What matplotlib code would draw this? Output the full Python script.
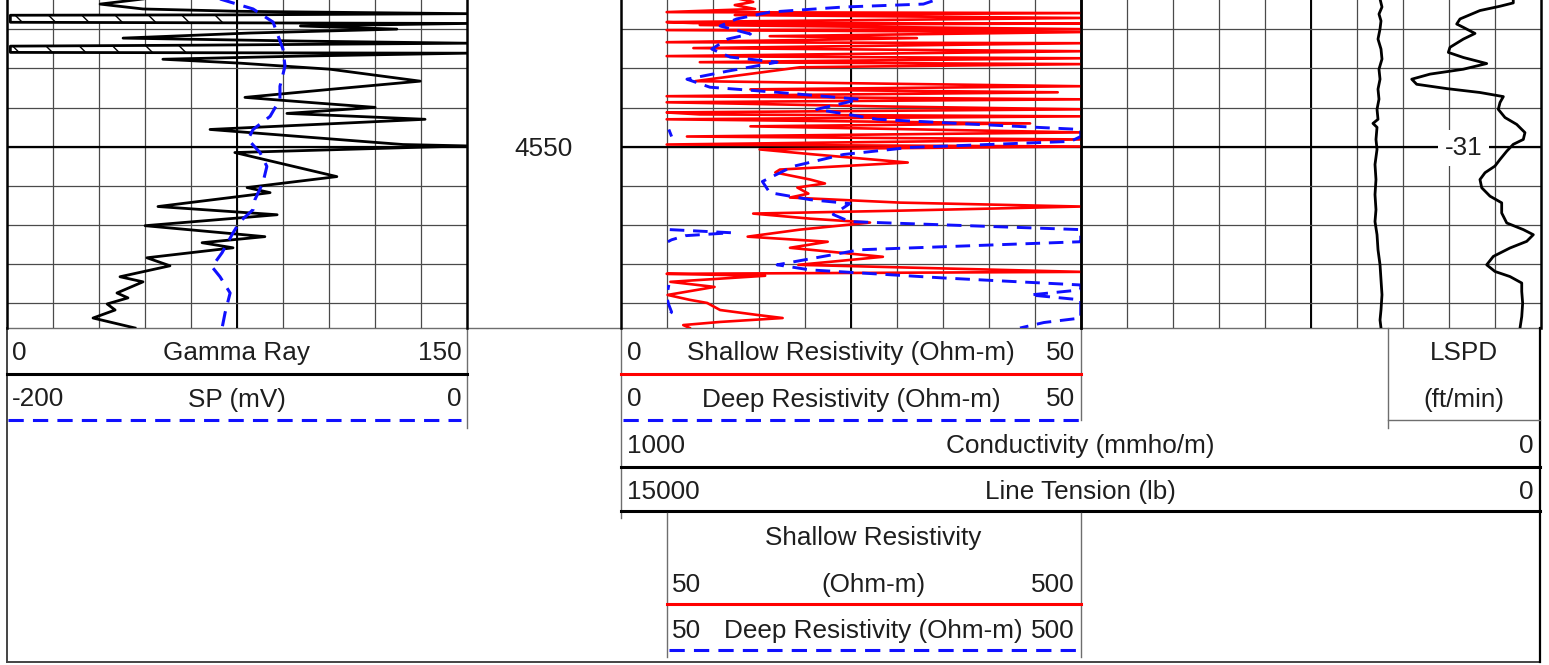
import numpy as np
import matplotlib
matplotlib.use("Agg")
import matplotlib.pyplot as plt

plt.rcParams['font.family'] = ['Liberation Sans', 'DejaVu Sans']
plt.rcParams['hatch.linewidth'] = 1.0
plt.rcParams['hatch.color'] = 'black'

W, H = 1549, 665

# ---------------- data ----------------
depth_top = 4542.45
depth_bottom = 4559.27
grid_depths = [4544, 4546, 4548, 4550, 4552, 4554, 4556, 4558]
depth_label = 4550
lspd_label = "-31"

gr_depth = [4542.45, 4542.71, 4542.96, 4543.08, 4543.20, 4543.26, 4543.28, 4543.64, 4543.66,
            4543.70, 4543.83, 4543.99, 4544.19, 4544.45, 4544.60, 4544.71, 4544.81, 4544.86,
            4545.18, 4545.22, 4545.37, 4545.53, 4545.73, 4546.04, 4546.65, 4547.07, 4547.48,
            4547.78, 4547.99, 4548.30, 4548.60, 4549.12, 4549.53, 4549.89, 4549.96, 4550.30,
            4550.81, 4551.53, 4552.09, 4552.35, 4553.06, 4553.48, 4554.04, 4554.60, 4554.91,
            4555.17, 4555.68, 4556.09, 4556.65, 4556.91, 4557.48, 4557.73, 4558.04, 4558.35,
            4558.76, 4559.27]
gr_api = [44.3, 30.3, 44.3, 76.0, 150.0, 76.0, 1.0, 1.0, 52.1,
          150.0, 95.7, 127.2, 79.2, 37.8, 95.7, 150.0, 63.0, 1.0,
          1.0, 150.0, 95.7, 50.8, 76.0, 105.4, 134.8, 105.4, 77.6,
          102.1, 120.1, 91.3, 136.4, 66.2, 99.5, 129.2, 150.0, 74.3,
          88.1, 107.6, 78.3, 85.8, 49.2, 88.1, 45.0, 84.1, 63.6,
          73.7, 45.6, 53.1, 36.8, 44.3, 35.8, 39.4, 32.6, 35.2,
          28.0, 41.7]
# hatched (shaded) intervals: depth from, depth to, GR limit of the shading
gr_shade_top = [4543.26, 4544.81]
gr_shade_base = [4543.66, 4545.18]
gr_shade_limit = [74.0, 64.0]

sp_depth = [4542.45, 4542.96, 4543.63, 4545.01, 4545.88, 4546.91, 4547.58, 4548.45, 4549.12,
            4549.63, 4550.30, 4551.01, 4551.83, 4552.71, 4553.22, 4553.83, 4554.40, 4555.42,
            4556.14, 4556.65, 4557.48, 4558.50, 4559.27]
sp_mv = [-107.4, -93.0, -84.3, -80.0, -79.1, -81.3, -81.3, -85.6, -93.0,
         -95.2, -90.0, -87.0, -88.7, -92.2, -93.0, -98.7, -101.7, -106.5,
         -110.9, -107.4, -103.0, -105.2, -106.5]

shallow_depth = [4542.45, 4542.60, 4542.76, 4542.96, 4543.12, 4543.17, 4543.27, 4543.42, 4543.63,
                 4543.68, 4543.70, 4543.78, 4543.99, 4544.04, 4544.14, 4544.35, 4544.45, 4544.66,
                 4544.71, 4544.96, 4545.12, 4545.37, 4545.48, 4545.68, 4545.78, 4545.94, 4546.65,
                 4546.91, 4547.07, 4547.22, 4547.42, 4547.58, 4547.73, 4547.94, 4548.09, 4548.25,
                 4548.35, 4548.45, 4548.60, 4548.81, 4548.96, 4549.27, 4549.48, 4549.63, 4549.73,
                 4549.89, 4549.99, 4550.14, 4550.40, 4550.81, 4551.17, 4551.32, 4551.68, 4551.88,
                 4552.09, 4552.40, 4552.60, 4552.86, 4553.06, 4553.27, 4553.42, 4553.68, 4553.88,
                 4554.24, 4554.60, 4554.86, 4555.17, 4555.63, 4555.89, 4556.04, 4556.40, 4556.50,
                 4556.60, 4556.91, 4557.17, 4557.58, 4557.83, 4557.99, 4558.35, 4558.60, 4558.76,
                 4558.96, 4559.12, 4559.27]
shallow_res = [12.95, 14.4, 12.4, 14.6, 5.0, 60.0, 12.4, 58.0, 5.0,
               7.9, 65.0, 8.6, 56.0, 5.0, 62.0, 16.2, 32.2, 5.0,
               58.0, 7.9, 54.0, 5.0, 60.0, 8.6, 57.0, 19.5, 8.1,
               55.0, 14.1, 47.5, 5.0, 60.0, 5.0, 28.2, 56.0, 5.0,
               8.6, 58.0, 5.0, 44.5, 14.1, 55.0, 7.2, 60.0, 33.1,
               5.0, 57.0, 15.1, 21.1, 31.2, 17.3, 16.8, 20.6, 22.2,
               19.2, 20.4, 18.4, 30.4, 51.0, 30.4, 14.4, 20.6, 27.1,
               19.5, 13.8, 22.5, 18.4, 28.5, 22.7, 19.3, 55.0, 5.0,
               15.7, 5.4, 10.2, 5.1, 7.5, 9.4, 10.8, 14.8, 17.6,
               10.8, 6.8, 7.5]

deep_depth = [4542.55, 4542.71, 4542.86, 4543.12, 4543.47, 4543.83, 4544.24, 4544.50, 4545.01,
              4545.42, 4545.68, 4546.14, 4546.55, 4546.96, 4547.22, 4547.58, 4548.09, 4548.60,
              4548.86, 4549.12, 4549.48, 4549.73, 4550.04, 4550.40, 4551.01, 4551.78, 4552.35,
              4552.71, 4552.91, 4553.47, 4553.83, 4554.24, 4554.40, 4554.55, 4554.76, 4554.86,
              4555.27, 4556.04, 4556.30, 4556.71, 4557.07, 4557.32, 4557.58, 4557.83, 4558.09,
              4558.45, 4558.76, 4558.99, 4559.27]
deep_res = [33.9, 32.9, 24.2, 16.2, 12.6, 10.8, 14.1, 11.6, 9.9,
            11.9, 17.0, 11.6, 7.2, 9.7, 17.0, 26.0, 21.3, 27.9,
            38.7, 52.0, 55.0, 48.9, 31.4, 24.2, 18.7, 15.4, 16.2,
            20.6, 24.9, 23.1, 24.9, 53.0, 120.0, 70.0, 55.0, 51.0,
            26.0, 17.0, 20.6, 35.0, 52.0, 51.0, 44.5, 50.5, 52.0,
            55.0, 50.5, 46.0, 43.4]

cond_depth = [4542.45, 4542.65, 4542.82, 4543.04, 4543.47, 4543.73, 4543.90, 4544.21, 4544.50,
              4544.92, 4545.18, 4545.44, 4545.75, 4546.04, 4546.29, 4546.55, 4546.81, 4547.03,
              4547.23, 4547.44, 4547.74, 4548.09, 4548.51, 4548.86, 4549.28, 4549.63, 4549.88,
              4550.23, 4550.65, 4550.99, 4551.33, 4551.68, 4552.10, 4552.53, 4552.87, 4553.39,
              4553.90, 4554.24, 4554.50, 4554.84, 4555.18, 4555.61, 4556.04, 4556.38, 4556.64,
              4556.97, 4557.40, 4558.00, 4558.69, 4559.28]
cond_mmho = [29.6, 29.6, 44.0, 65.8, 87.5, 91.1, 83.9, 71.2, 83.9,
             98.4, 100.2, 83.9, 58.5, 83.9, 120.1, 140.0, 134.6, 102.0,
             65.8, 40.4, 44.0, 45.9, 38.6, 25.9, 16.9, 18.7, 29.6,
             36.7, 44.0, 49.5, 60.3, 65.8, 63.9, 54.9, 42.2, 42.2,
             36.7, 18.7, 7.8, 15.0, 33.2, 51.3, 58.5, 49.5, 33.2,
             20.4, 20.4, 19.4, 20.4, 22.3]

tension_depth = [4542.45, 4542.86, 4543.22, 4543.57, 4543.98, 4544.50, 4545.01, 4545.52, 4546.04,
                 4546.55, 4547.06, 4547.57, 4548.09, 4548.60, 4548.81, 4549.01, 4549.63, 4550.14,
                 4550.91, 4551.68, 4552.45, 4553.22, 4553.83, 4554.50, 4555.27, 4556.04, 4556.81,
                 4557.57, 4558.34, 4558.86, 4559.27]
tension_lb = [2617, 2585, 2634, 2601, 2617, 2650, 2601, 2585, 2634,
              2617, 2650, 2634, 2666, 2650, 2732, 2666, 2683, 2666,
              2699, 2683, 2699, 2683, 2699, 2666, 2650, 2617, 2601,
              2585, 2601, 2617, 2601]

# ---------------- figure ----------------
fig = plt.figure(figsize=(W / 100, H / 100), dpi=100)
fig.patch.set_facecolor('white')

GRID = '#4a4a4a'
TXT = '#1e1e1e'
BLUE = '#1010ff'
RED = '#ff0000'
FS = 18.8
LOG_TOP, LOG_BOT = -1, 328
T1 = (7.3, 466.7)
T2 = (466.7, 620.7)
T3 = (620.7, 1080.7)
T4 = (1080.7, 1540.5)


def px_axes(x0, x1, y0, y1, z=1):
    ax = fig.add_axes([x0 / W, 1 - y1 / H, (x1 - x0) / W, (y1 - y0) / H])
    ax.set_zorder(z)
    return ax


# overlay for header (pixel coordinates)
ov = px_axes(0, W, 0, H, z=0)
ov.set_xlim(0, W)
ov.set_ylim(H, 0)
ov.axis('off')


def make_track(x0x1, xlim, z=1):
    ax = px_axes(x0x1[0], x0x1[1], LOG_TOP, LOG_BOT, z)
    ax.set_xlim(*xlim)
    ax.set_ylim(depth_bottom, depth_top)
    ticks = np.linspace(xlim[0], xlim[1], 11)
    for t in ticks[1:-1]:
        ax.axvline(t, color=GRID, lw=0.9, zorder=1)
    ax.axvline(ticks[5], color='black', lw=1.4, zorder=1)
    for d in grid_depths:
        ax.axhline(d, color=GRID, lw=0.9, zorder=1)
    ax.axhline(depth_label, color='black', lw=1.6, zorder=1)
    ax.set_xticks([])
    ax.set_yticks([])
    ax.spines['top'].set_visible(False)
    ax.spines['bottom'].set_visible(False)
    for s in ('left', 'right'):
        ax.spines[s].set_linewidth(1.8)
        ax.spines[s].set_color('black')
    ax.patch.set_alpha(0)
    return ax


def overlay_axes(x0x1, xlim, z):
    ax = px_axes(x0x1[0], x0x1[1], LOG_TOP, LOG_BOT, z)
    ax.set_xlim(*xlim)
    ax.set_ylim(depth_bottom, depth_top)
    ax.axis('off')
    return ax


# --- Track 1: Gamma ray + SP
ax1 = make_track(T1, (0, 150))
gd = np.array(gr_depth)
gv = np.array(gr_api)
for a, b, lim in zip(gr_shade_top, gr_shade_base, gr_shade_limit):
    m = (gd >= a - 1e-6) & (gd <= b + 1e-6)
    ax1.fill_betweenx(gd[m], np.minimum(gv[m], lim), lim, facecolor='white',
                      edgecolor='black', hatch='\\', linewidth=0, zorder=2)
ax1.plot(np.clip(gv, 0, 150), gd, color='black', lw=2.0, zorder=4)
ax_sp = overlay_axes(T1, (-200, 0), 2)
ax_sp.plot(sp_mv, sp_depth, color=BLUE, lw=2.2, ls=(0, (5, 3)))

# --- Track 2: depth
ax2 = overlay_axes(T2, (0, 1), 1)
ax2.annotate(str(depth_label), (0.5, depth_label), xytext=(0, -1.5), textcoords='offset points',
             ha='center', va='center', fontsize=FS, color=TXT)

# --- Track 3: resistivity
ax3 = make_track(T3, (0, 50))
sr = np.array(shallow_res)
dr = np.array(deep_res)
ax3.plot(np.clip(sr, 0, 50), shallow_depth, color=RED, lw=1.9, zorder=4)
ax3.plot(np.clip(dr, 0, 50), deep_depth, color=BLUE, lw=2.1, ls=(0, (5, 3)), zorder=5)
ax3b = overlay_axes((667.0, T3[1]), (50, 500), 3)
ax3b.plot(np.where(sr > 50, np.clip(sr, 50, 500), np.nan), shallow_depth, color=RED, lw=1.9)
ax3b.plot(np.where(dr > 50, np.clip(dr, 50, 500), np.nan), deep_depth, color=BLUE, lw=2.1,
          ls=(0, (5, 3)))

# --- Track 4
ax4 = make_track(T4, (0, 10))
ax4.annotate(lspd_label, ((1463.5 - T4[0]) / (T4[1] - T4[0]) * 10, depth_label),
             xytext=(0, -1.0), textcoords='offset points', ha='center', va='center',
             fontsize=FS, color=TXT, zorder=6,
             bbox=dict(facecolor='white', edgecolor='none', pad=4.5))

ax_c = overlay_axes((T3[0], T4[1]), (1000, 0), 4)
ax_c.plot(cond_mmho, cond_depth, color='black', lw=2.0)
ax_t = overlay_axes((T3[0], T4[1]), (15000, 0), 4)
ax_t.plot(tension_lb, tension_depth, color='black', lw=2.0)

# ---------------- header ----------------
HG = '#6e6e6e'
ov.plot([7, T4[1]], [328, 328], color=HG, lw=1.0)
# outer frame
ov.plot([7, 7], [328, 662], color='#444444', lw=1.4)
ov.plot([7, T4[1]], [662, 662], color='#444444', lw=1.4)
ov.plot([T4[1], T4[1]], [328, 662], color='black', lw=1.6)

baselines = [360, 406.5, 453, 499, 545.5, 592, 638]


def htext(x, row, s, ha):
    ov.text(x, baselines[row], s, ha=ha, va='baseline', fontsize=FS, color=TXT)


# track1 header
ov.plot([T1[1], T1[1]], [328, 428], color=HG, lw=1.0)
ov.plot([T1[0], T1[1]], [374, 374], color='black', lw=2.2)
ov.plot([T1[0] + 1, 461], [420, 420], color=BLUE, lw=2.2, ls=(0, (5, 3)))
htext(12, 0, "0", 'left')
htext((T1[0] + T1[1]) / 2, 0, "Gamma Ray", 'center')
htext(462, 0, "150", 'right')
htext(12, 1, "-200", 'left')
htext((T1[0] + T1[1]) / 2, 1, "SP (mV)", 'center')
htext(462, 1, "0", 'right')

# track3 header
ov.plot([T3[0], T3[0]], [328, 518], color=HG, lw=1.0)
ov.plot([T3[1], T3[1]], [328, 420], color=HG, lw=1.0)
ov.plot([T3[0], T3[1]], [374, 374], color=RED, lw=2.2)
ov.plot([T3[0] + 2, T3[1]], [420, 420], color=BLUE, lw=2.2, ls=(0, (5, 3)))
htext(627, 0, "0", 'left')
htext(851, 0, "Shallow Resistivity (Ohm-m)", 'center')
htext(1075, 0, "50", 'right')
htext(627, 1, "0", 'left')
htext(851, 1, "Deep Resistivity (Ohm-m)", 'center')
htext(1075, 1, "50", 'right')

# conductivity / tension header
ov.plot([T3[0], T4[1]], [466.5, 466.5], color='black', lw=2.2)
ov.plot([T3[0], T4[1]], [511, 511], color='black', lw=2.2)
htext(627, 2, "1000", 'left')
htext((T3[0] + T4[1]) / 2, 2, "Conductivity (mmho/m)", 'center')
htext(1534, 2, "0", 'right')
htext(627, 3, "15000", 'left')
htext((T3[0] + T4[1]) / 2, 3, "Line Tension (lb)", 'center')
htext(1534, 3, "0", 'right')

# backup resistivity header
ov.plot([667, 667], [513, 657], color=HG, lw=1.0)
ov.plot([T3[1], T3[1]], [513, 657], color=HG, lw=1.0)
ov.plot([667, T3[1]], [604, 604], color=RED, lw=2.2)
ov.plot([669, 1076], [650, 650], color=BLUE, lw=2.2, ls=(0, (5, 3)))
htext(873.5, 4, "Shallow Resistivity", 'center')
htext(672, 5, "50", 'left')
htext(873.5, 5, "(Ohm-m)", 'center')
htext(1075, 5, "500", 'right')
htext(672, 6, "50", 'left')
htext(873.5, 6, "Deep Resistivity (Ohm-m)", 'center')
htext(1075, 6, "500", 'right')

# LSPD header
ov.plot([1388, 1388], [328, 428], color=HG, lw=1.0)
ov.plot([1388, T4[1]], [420, 420], color=HG, lw=1.0)
htext(1464, 0, "LSPD", 'center')
htext(1464, 1, "(ft/min)", 'center')

fig.savefig("out.png", dpi=100, facecolor='white')
